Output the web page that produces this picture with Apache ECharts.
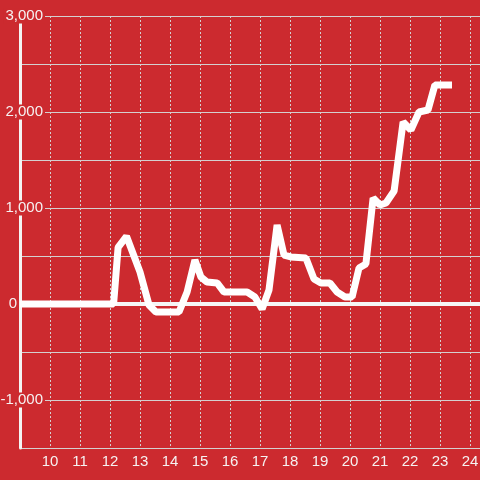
<!DOCTYPE html>
<html>
<head>
<meta charset="utf-8">
<script src="https://cdn.jsdelivr.net/npm/echarts@6/dist/echarts.min.js"></script>
<style>html,body{margin:0;padding:0;background:#cc2a2f;}#c{width:480px;height:480px;}</style>
</head>
<body>
<div id="c"></div>
<script>
const xValues = [9, 12.12, 12.27, 12.55, 13.0, 13.3, 13.53, 14.3, 14.57, 14.83, 15.03, 15.23, 15.57, 15.8, 16.57, 16.83, 17.07, 17.3, 17.57, 17.8, 18.03, 18.53, 18.8, 19.03, 19.33, 19.57, 19.83, 20.07, 20.3, 20.53, 20.77, 21.0, 21.2, 21.47, 21.77, 22.03, 22.3, 22.6, 22.83, 23.4];
const yValues = [0, 0, 590, 705, 333, -10, -83, -83, 125, 458, 281, 229, 219, 125, 125, 73, -52, 146, 823, 510, 490, 479, 260, 219, 219, 125, 73, 73, 375, 417, 1104, 1031, 1052, 1177, 1896, 1812, 2000, 2021, 2281, 2281];
const yTickLabelsEvery = 1000;

const BG = '#cc2a2f';
const TXT = '#f6f2f2';
const GRID = '#d4d0d0';
const FONT = 'Liberation Sans, Arial, sans-serif';
const FS = 15;

const chart = echarts.init(document.getElementById('c'));
chart.setOption({
  backgroundColor: BG,
  animation: false,
  grid: { left: 20, right: 0, top: 16, bottom: 32, containLabel: false, outerBoundsMode: 'none' },
  xAxis: {
    type: 'value', min: 9, max: 9 + 460 / 30, interval: 1,
    axisLine: { show: false },
    axisTick: { show: false },
    axisLabel: {
      color: TXT, fontSize: FS, fontFamily: FONT, margin: 6,
      showMinLabel: false,
      formatter: v => (Math.abs(v - Math.round(v)) < 1e-6 ? String(Math.round(v)) : '')
    },
    splitLine: { show: true, lineStyle: { color: GRID, type: [2, 2], width: 1 } }
  },
  yAxis: {
    type: 'value', min: -1500, max: 3000, interval: 500,
    axisLine: { show: true, lineStyle: { color: '#f4f4f4', width: 3 } },
    axisTick: { show: false },
    axisLabel: {
      color: TXT, fontSize: FS, fontFamily: FONT,
      margin: -25,
      formatter: v => {
        if (v % yTickLabelsEvery !== 0) return '';
        if (v === 0) return '{z|0}';
        return '{a|' + v.toLocaleString('en-US') + '}';
      },
      rich: {
        a: { color: TXT, fontSize: FS, fontFamily: FONT, backgroundColor: BG, padding: [0, 2], lineHeight: 16 },
        z: { color: TXT, fontSize: FS, fontFamily: FONT, padding: [0, 28, 0, 0], lineHeight: 16 }
      }
    },
    splitLine: { show: true, lineStyle: { color: GRID, width: 1 } }
  },
  series: [{
    type: 'line',
    data: xValues.map((x, i) => [x, yValues[i]]),
    showSymbol: false,
    lineStyle: { color: '#ffffff', width: 7 },
    itemStyle: { color: '#ffffff' },
    z: 5,
    markLine: {
      silent: true, symbol: 'none', label: { show: false },
      lineStyle: { color: '#f6f6f6', width: 4, type: 'solid' },
      data: [{ yAxis: 0 }],
      z: 3
    }
  }]
});
</script>
</body>
</html>
